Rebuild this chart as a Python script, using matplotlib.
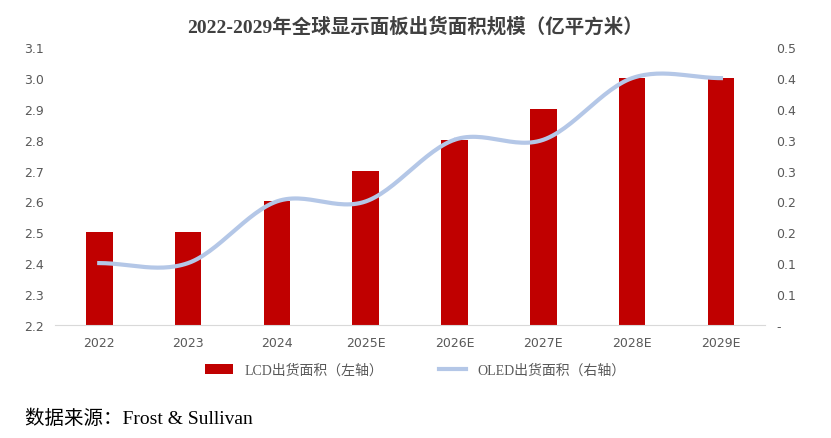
import numpy as np
import matplotlib.pyplot as plt
from matplotlib.ticker import FixedLocator, FuncFormatter

plt.rcParams['font.family'] = ['Liberation Serif', 'Noto Sans CJK SC', 'DejaVu Sans']

years = ['2022', '2023', '2024', '2025E', '2026E', '2027E', '2028E', '2029E']
lcd = [2.5, 2.5, 2.6, 2.7, 2.8, 2.9, 3.0, 3.0]
oled = [0.1, 0.1, 0.2, 0.2, 0.3, 0.3, 0.4, 0.4]


def smooth(x, y, n=30):
    # Catmull-Rom curve through the points, like Excel's smoothed line
    x = np.asarray(x, float)
    y = np.asarray(y, float)
    px = np.concatenate([[2 * x[0] - x[1]], x, [2 * x[-1] - x[-2]]])
    py = np.concatenate([[2 * y[0] - y[1]], y, [2 * y[-1] - y[-2]]])
    xs, ys = [], []
    t = np.linspace(0, 1, n)
    for i in range(1, len(px) - 2):
        for p, out in ((px, xs), (py, ys)):
            p0, p1, p2, p3 = p[i - 1:i + 3]
            out.extend(0.5 * (2 * p1 + (-p0 + p2) * t + (2 * p0 - 5 * p1 + 4 * p2 - p3) * t ** 2
                              + (-p0 + 3 * p1 - 3 * p2 + p3) * t ** 3))
    return xs, ys


fig = plt.figure(figsize=(8.31, 4.39), dpi=100)
ax = fig.add_axes([0.066, 0.258, 0.855, 0.632])
x = np.arange(len(years))
ax.bar(x, lcd, width=0.3, color='#C00000', label='LCD出货面积（左轴）', zorder=2)
ax.set_ylim(2.2, 3.1)
ax.set_yticks(np.arange(2.2, 3.11, 0.1))
ax.yaxis.set_major_formatter(FuncFormatter(lambda v, p: f'{v:.1f}'))
ax.set_xlim(-0.5, len(years) - 0.5)
ax.set_xticks(x)
ax.set_xticklabels(years)
for s in ['top', 'right', 'left']:
    ax.spines[s].set_visible(False)
ax.spines['bottom'].set_color('#d9d9d9')
ax.tick_params(length=0, labelsize=9, colors='#595959', pad=8)

ax2 = ax.twinx()
sx, sy = smooth(x, oled)
ax2.plot(sx, sy, color='#B4C7E7', lw=3, label='OLED出货面积（右轴）', zorder=3)
ax2.set_ylim(0, 0.45)
ax2.yaxis.set_major_locator(FixedLocator(np.arange(0, 0.451, 0.05)))
ax2.yaxis.set_major_formatter(FuncFormatter(
    lambda v, p: '-' if v < 0.01 else f'{np.floor(v * 10 + 0.5 + 1e-9) / 10:.1f}'))
for s in ax2.spines.values():
    s.set_visible(False)
ax2.tick_params(length=0, labelsize=9, colors='#595959', pad=8)

for lab in ax.get_xticklabels() + ax.get_yticklabels() + ax2.get_yticklabels():
    lab.set_family(['DejaVu Sans'])

fig.text(0.5, 0.925, '2022-2029年全球显示面板出货面积规模（亿平方米）',
         ha='center', fontsize=14, fontweight='bold', color='#404040')
h1, l1 = ax.get_legend_handles_labels()
h2, l2 = ax2.get_legend_handles_labels()
fig.legend(h1 + h2, l1 + l2, loc='center', bbox_to_anchor=(0.5, 0.155), ncol=2,
           frameon=False, fontsize=10, labelcolor='#595959', columnspacing=4)
fig.text(0.03, 0.035, '数据来源：Frost & Sullivan', fontsize=14, color='black')
fig.savefig('out.png', dpi=100)
